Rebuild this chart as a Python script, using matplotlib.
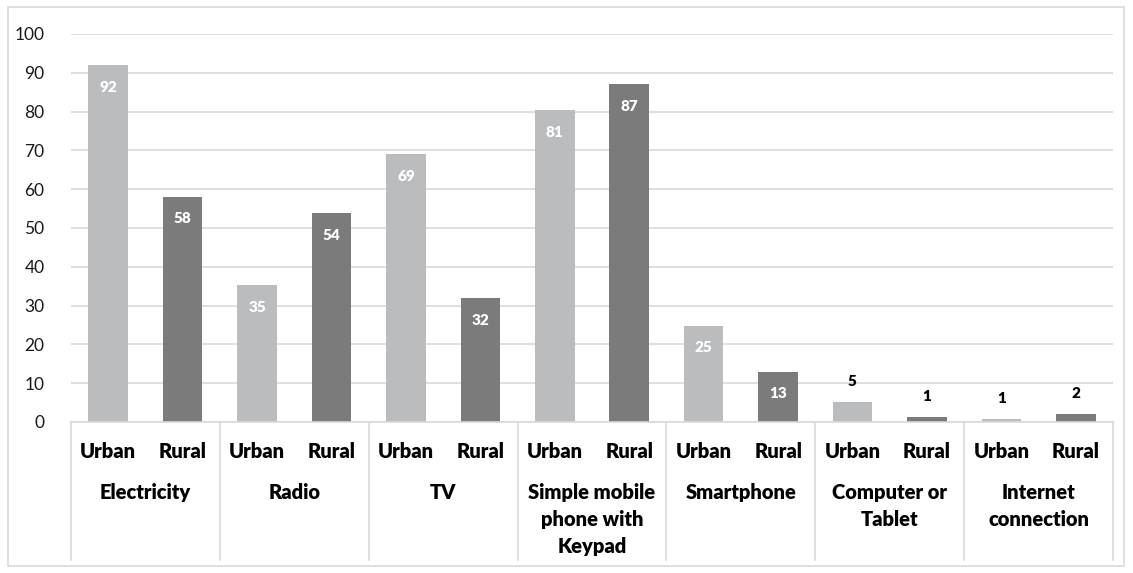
import matplotlib.pyplot as plt
from matplotlib.patches import Rectangle
import numpy as np

groups = ['Electricity', 'Radio', 'TV', 'Simple mobile\nphone with\nKeypad',
          'Smartphone', 'Computer or\nTablet', 'Internet\nconnection']
sub_labels = ['Urban', 'Rural']
urban = [91.9, 35.3, 69.0, 80.4, 24.8, 5.2, 0.8]
rural = [58.0, 53.8, 31.9, 87.1, 13.0, 1.4, 2.1]
urban_txt = ['92', '35', '69', '81', '25', '5', '1']
rural_txt = ['58', '54', '32', '87', '13', '1', '2']
y_ticks = [0, 10, 20, 30, 40, 50, 60, 70, 80, 90, 100]

URBAN_COL = '#BBBCBE'
RURAL_COL = '#7B7B7B'
GRID_COL = '#D9D9D9'
FONT = 'Lato'
WEIGHT = 'heavy'

W, H = 1133, 573
fig = plt.figure(figsize=(W / 100, H / 100), dpi=100)
fig.patches.append(Rectangle((8 / W, 7 / H), 1116 / W, 559 / H, transform=fig.transFigure,
                             fill=False, edgecolor=GRID_COL, lw=1.2))

left, right, top, bottom = 71, 1113, 34, 422
ax = fig.add_axes([left / W, 1 - bottom / H, (right - left) / W, (bottom - top) / H])

n = len(groups)
xu = np.arange(n) * 2 + 0.5
xr = np.arange(n) * 2 + 1.5
bw = 0.53
ax.bar(xu, urban, bw, color=URBAN_COL, zorder=2)
ax.bar(xr, rural, bw, color=RURAL_COL, zorder=2)

ax.set_xlim(0, 2 * n)
ax.set_ylim(0, 100)
ax.set_yticks(y_ticks)
ax.set_yticklabels([str(t) for t in y_ticks], fontsize=12.5, family=FONT, color='#1a1a1a')
ax.tick_params(axis='y', length=0, pad=19)
ax.set_xticks([])
ax.grid(axis='y', color=GRID_COL, lw=1.2, zorder=0)
for s in ['left', 'right', 'top']:
    ax.spines[s].set_visible(False)
ax.spines['bottom'].set_color(GRID_COL)
ax.spines['bottom'].set_linewidth(1.2)

# bar value labels (inside top, or above when bar is short)
px = 100 / (bottom - top)  # data units per pixel
for xs, vals, txts in [(xu, urban, urban_txt), (xr, rural, rural_txt)]:
    for x, v, t in zip(xs, vals, txts):
        if v > 10:
            ax.text(x, v - 22 * px, t, ha='center', va='center', color='white',
                    fontsize=11, fontweight=WEIGHT, family=FONT, zorder=3)
        else:
            ax.text(x, v + 20 * px, t, ha='center', va='center', color='black',
                    fontsize=11, fontweight=WEIGHT, family=FONT, zorder=3)

# category axis: dividers and labels
trans = ax.get_xaxis_transform()
depth = (560 - bottom) / (bottom - top)
for i in range(n + 1):
    ax.plot([2 * i, 2 * i], [0, -depth], color=GRID_COL, lw=1.2, transform=trans, clip_on=False)
for i in range(n):
    for j, x in enumerate([xu[i], xr[i]]):
        ax.text(x, -(451 - bottom) / (bottom - top), sub_labels[j], transform=trans,
                ha='center', va='center', fontsize=14.5, fontweight=WEIGHT, family=FONT)
    ax.text(2 * i + 1, -(483 - bottom) / (bottom - top), groups[i], transform=trans,
            ha='center', va='top', fontsize=14.5, fontweight=WEIGHT, family=FONT,
            linespacing=1.5)

fig.savefig('out.png', dpi=100)
